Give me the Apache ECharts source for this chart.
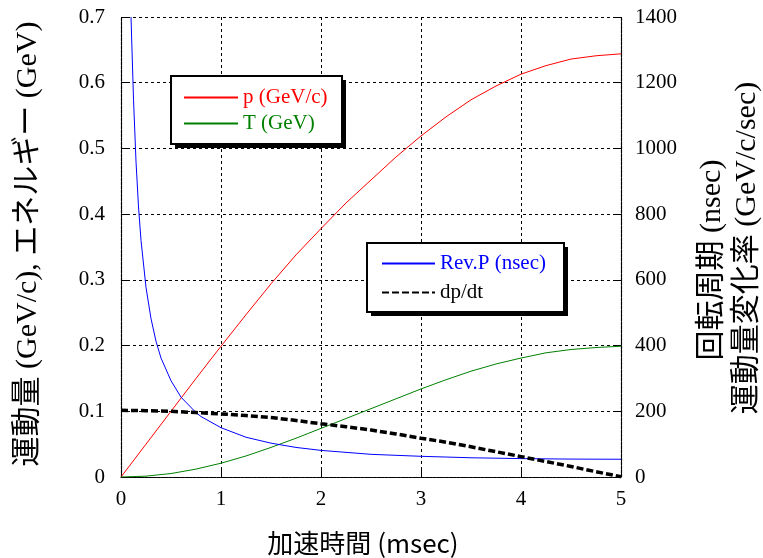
<!DOCTYPE html>
<html>
<head>
<meta charset="utf-8">
<script src="https://cdn.jsdelivr.net/npm/echarts@6/dist/echarts.min.js"></script>
<style>
html,body{margin:0;padding:0;background:#fff;}
#chart{width:763px;height:558px;}
</style>
</head>
<body>
<div id="chart"></div>
<script>
// acceleration time grid (msec)
const timeGrid = [0, 0.25, 0.5, 0.75, 1, 1.25, 1.5, 1.75, 2, 2.25, 2.5, 2.75, 3, 3.25, 3.5, 3.75, 4, 4.25, 4.5, 4.75, 5];
// momentum p (GeV/c)
const momentum = [0, 0.05, 0.1, 0.15, 0.199, 0.247, 0.294, 0.338, 0.378, 0.417, 0.452, 0.487, 0.519, 0.548, 0.574, 0.595, 0.613, 0.626, 0.636, 0.641, 0.644];
// kinetic energy T (GeV)
const kinetic = [0, 0.0013, 0.0053, 0.012, 0.021, 0.032, 0.045, 0.059, 0.074, 0.089, 0.104, 0.119, 0.134, 0.148, 0.161, 0.172, 0.181, 0.189, 0.194, 0.197, 0.199];
// dp/dt (GeV/c/sec)
const dpdt = [203, 202, 200, 196, 192, 187, 181, 172, 162, 153, 143, 131, 118, 106, 92, 77, 62, 47, 32, 16, 1];
// revolution period (nsec)
const revTime = [0.1, 0.125, 0.15, 0.175, 0.2, 0.25, 0.3, 0.35, 0.4, 0.5, 0.6, 0.75, 0.8, 1, 1.25, 1.5, 1.75, 2, 2.5, 3, 3.5, 4, 4.5, 5];
const revPeriod = [1400, 1150, 960, 822, 720, 577, 482, 413, 362, 293, 243, 196, 184, 150, 121, 103, 90, 81, 69, 63, 58.5, 56, 54.5, 54];
// tick labels
const xTicks = ['0', '1', '2', '3', '4', '5'];
const leftTicks = ['0', '0.1', '0.2', '0.3', '0.4', '0.5', '0.6', '0.7'];
const rightTicks = ['0', '200', '400', '600', '800', '1000', '1200', '1400'];

const serif = '"Liberation Serif", "Times New Roman", serif';
const cjk = '"Noto Sans CJK JP", sans-serif';
const mixed = '"Liberation Serif", "Noto Sans CJK JP", serif';

const chart = echarts.init(document.getElementById('chart'), null, {renderer: 'canvas'});

const dashGrid = {type: [3, 3], color: '#000', width: 1};
const frameLine = {color: '#000', width: 1.2, type: [3, 1]};

const option = {
  animation: false,
  backgroundColor: '#fff',
  grid: {left: 121, right: 142, top: 17, bottom: 81, containLabel: false},
  xAxis: {
    type: 'value', min: 0, max: 5, interval: 1,
    axisLine: {show: true, lineStyle: frameLine},
    axisTick: {show: true, inside: true, length: 8, lineStyle: {color: '#000'}},
    splitLine: {show: true, lineStyle: dashGrid},
    axisLabel: {
      margin: 12, color: '#000', fontFamily: serif, fontSize: 21,
      formatter: function (v) { return xTicks[Math.round(v)]; }
    }
  },
  yAxis: [
    {
      type: 'value', min: 0, max: 0.7, interval: 0.1, position: 'left',
      axisLine: {show: true, lineStyle: frameLine},
      axisTick: {show: true, inside: true, length: 7, lineStyle: {color: '#000'}},
      splitLine: {show: true, lineStyle: dashGrid},
      axisLabel: {
        margin: 16, color: '#000', fontFamily: serif, fontSize: 21,
        formatter: function (v) { return leftTicks[Math.round(v * 10)]; }
      }
    },
    {
      type: 'value', min: 0, max: 1400, interval: 200, position: 'right',
      axisLine: {show: true, lineStyle: frameLine},
      axisTick: {show: true, inside: true, length: 7, lineStyle: {color: '#000'}},
      splitLine: {show: false},
      axisLabel: {
        margin: 14, color: '#000', fontFamily: serif, fontSize: 21,
        formatter: function (v) { return rightTicks[Math.round(v / 200)]; }
      }
    }
  ],
  legend: [
    {
      orient: 'vertical', left: 171, top: 76, padding: [11, 12, 11, 12],
      itemWidth: 54, itemHeight: 14, itemGap: 5, z: 20,
      itemStyle: {opacity: 0},
      textStyle: {fontFamily: serif, fontSize: 21, lineHeight: 20},
      data: [
        {name: 'p (GeV/c)', textStyle: {color: '#ff0000'}},
        {name: 'T (GeV)', textStyle: {color: '#008000'}}
      ]
    },
    {
      orient: 'vertical', left: 367, top: 243, padding: [10, 12, 10, 14],
      itemWidth: 53, itemHeight: 14, itemGap: 8, z: 20,
      itemStyle: {opacity: 0},
      textStyle: {fontFamily: serif, fontSize: 21, lineHeight: 20},
      data: [
        {name: 'Rev.P (nsec)', textStyle: {color: '#0000ff'}},
        {name: 'dp/dt', textStyle: {color: '#000'}}
      ]
    }
  ],
  graphic: [
    {type: 'rect', z: 10, shape: {x: 175, y: 80, width: 171, height: 68}, style: {fill: '#000'}},
    {type: 'rect', z: 11, shape: {x: 171, y: 76, width: 171, height: 68}, style: {fill: '#fff', stroke: '#000', lineWidth: 2}},
    {type: 'rect', z: 10, shape: {x: 371, y: 247, width: 197, height: 69}, style: {fill: '#000'}},
    {type: 'rect', z: 11, shape: {x: 367, y: 243, width: 197, height: 69}, style: {fill: '#fff', stroke: '#000', lineWidth: 2}},
    {
      type: 'text', z: 20, x: 28, y: 244, rotation: Math.PI / 2,
      style: {text: '運動量 (GeV/c), エネルギー (GeV)', font: '30px ' + mixed, fill: '#000',
              textAlign: 'center', textVerticalAlign: 'middle', align: 'center', verticalAlign: 'middle'}
    },
    {
      type: 'text', z: 20, x: 712, y: 260, rotation: Math.PI / 2,
      style: {text: '回転周期 (nsec)', font: '30px ' + mixed, fill: '#000',
              textAlign: 'center', textVerticalAlign: 'middle', align: 'center', verticalAlign: 'middle'}
    },
    {
      type: 'text', z: 20, x: 747, y: 248, rotation: Math.PI / 2,
      style: {text: '運動量変化率 (GeV/c/sec)', font: '30px ' + mixed, fill: '#000',
              textAlign: 'center', textVerticalAlign: 'middle', align: 'center', verticalAlign: 'middle'}
    },
    {
      type: 'text', z: 20, x: 363, y: 543,
      style: {text: '加速時間 (msec)', font: '26px ' + cjk, fill: '#000',
              textAlign: 'center', textVerticalAlign: 'middle', align: 'center', verticalAlign: 'middle'}
    }
  ],
  series: [
    {
      name: 'p (GeV/c)', type: 'line', yAxisIndex: 0, showSymbol: false, symbol: 'none',
      lineStyle: {color: '#ff0000', width: 1}, itemStyle: {color: '#ff0000'},
      data: timeGrid.map(function (t, i) { return [t, momentum[i]]; })
    },
    {
      name: 'T (GeV)', type: 'line', yAxisIndex: 0, showSymbol: false, symbol: 'none',
      lineStyle: {color: '#008000', width: 1}, itemStyle: {color: '#008000'},
      data: timeGrid.map(function (t, i) { return [t, kinetic[i]]; })
    },
    {
      name: 'Rev.P (nsec)', type: 'line', yAxisIndex: 1, showSymbol: false, symbol: 'none',
      lineStyle: {color: '#0000ff', width: 1}, itemStyle: {color: '#0000ff'},
      data: revTime.map(function (t, i) { return [t, revPeriod[i]]; })
    },
    {
      name: 'dp/dt', type: 'line', yAxisIndex: 1, showSymbol: false, symbol: 'none',
      lineStyle: {color: '#000', width: 3.5, type: [7, 3]}, itemStyle: {color: '#000'},
      data: timeGrid.map(function (t, i) { return [t, dpdt[i]]; })
    }
  ]
};
chart.setOption(option);
</script>
</body>
</html>
